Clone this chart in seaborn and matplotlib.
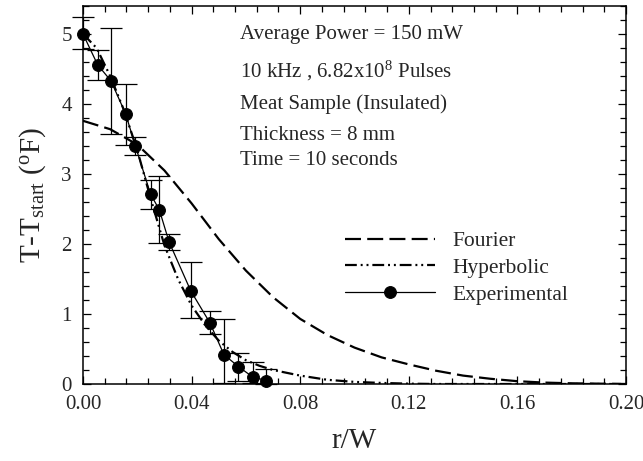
import matplotlib
matplotlib.use("Agg")
import matplotlib.pyplot as plt
import seaborn as sns
import pandas as pd

# ---- data ----
exp_x = [0.0, 0.0054, 0.0103, 0.0157, 0.0193, 0.0249, 0.0281, 0.0317, 0.0397, 0.0468, 0.0519, 0.0572, 0.0625, 0.0674]
exp_y = [5.00, 4.56, 4.33, 3.86, 3.40, 2.71, 2.49, 2.03, 1.33, 0.87, 0.42, 0.25, 0.10, 0.05]
err_hi = [0.24, 0.21, 0.75, 0.43, 0.13, 0.20, 0.48, 0.12, 0.41, 0.18, 0.51, 0.20, 0.21, 0.17]
err_lo = [0.22, 0.21, 0.76, 0.44, 0.13, 0.21, 0.47, 0.12, 0.39, 0.16, 0.40, 0.20, 0.08, 0.05]

four_x = [0.0, 0.01, 0.02, 0.03, 0.04, 0.05, 0.06, 0.07, 0.08, 0.09, 0.10, 0.11, 0.12, 0.13, 0.14, 0.15, 0.16, 0.17, 0.18, 0.20]
four_y = [3.76, 3.64, 3.42, 3.05, 2.58, 2.07, 1.62, 1.24, 0.93, 0.70, 0.52, 0.38, 0.28, 0.19, 0.12, 0.075, 0.04, 0.02, 0.01, 0.0]

hyp_x = [0.0, 0.005, 0.01, 0.015, 0.02, 0.025, 0.03, 0.035, 0.04, 0.045, 0.05, 0.055, 0.06, 0.065, 0.07, 0.08, 0.09, 0.10, 0.11, 0.12, 0.13, 0.15, 0.20]
hyp_y = [5.0, 4.80, 4.40, 3.92, 3.34, 2.64, 1.98, 1.50, 1.12, 0.84, 0.62, 0.46, 0.34, 0.26, 0.20, 0.12, 0.06, 0.03, 0.015, 0.005, 0.0, 0.0, 0.0]

x_ticks = [0.00, 0.04, 0.08, 0.12, 0.16, 0.20]
x_ticklabels = ["0.00", "0.04", "0.08", "0.12", "0.16", "0.20"]
y_ticks = [0, 1, 2, 3, 4, 5]

notes = ["Average Power = 150 mW",
         "10 kHz , 6.82x10$^{8}$ Pulses",
         "Meat Sample (Insulated)",
         "Thickness = 8 mm",
         "Time = 10 seconds"]

sns.set_style("ticks")
plt.rcParams["font.family"] = ["Liberation Serif", "DejaVu Serif"]
plt.rcParams["mathtext.fontset"] = "custom"
plt.rcParams["mathtext.rm"] = "Liberation Serif"
plt.rcParams["mathtext.it"] = "Liberation Serif:italic"
plt.rcParams["lines.scale_dashes"] = False

W, H = 643, 461
fig = plt.figure(figsize=(W / 100, H / 100), dpi=100)
ax = fig.add_axes([83 / W, 1 - 384 / H, (626 - 83) / W, (384 - 6) / H])

df_f = pd.DataFrame({"x": four_x, "y": four_y})
df_h = pd.DataFrame({"x": hyp_x, "y": hyp_y})
df_e = pd.DataFrame({"x": exp_x, "y": exp_y})

sns.lineplot(data=df_f, x="x", y="y", ax=ax, color="black", lw=1.6,
             linestyle=(0, (11.5, 4.5)), label="Fourier")
sns.lineplot(data=df_h, x="x", y="y", ax=ax, color="black", lw=1.6,
             linestyle=(0, (8.5, 2.8, 1.4, 2.8, 1.4, 2.8)), label="Hyperbolic")
ax.errorbar(exp_x, exp_y, yerr=[err_lo, err_hi], fmt="none", ecolor="black",
            elinewidth=0.9, capsize=8, capthick=0.9, clip_on=False, zorder=3)
sns.lineplot(data=df_e, x="x", y="y", ax=ax, color="black", lw=0.9,
             marker="o", markersize=8.5, markeredgecolor="black",
             label="Experimental", clip_on=False, zorder=4)

ax.set_xlim(0, 0.2)
ax.set_ylim(0, 5.4)
ax.set_xticks(x_ticks)
ax.set_xticklabels(x_ticklabels)
ax.set_yticks(y_ticks)
ax.xaxis.set_minor_locator(matplotlib.ticker.MultipleLocator(0.008))
ax.yaxis.set_minor_locator(matplotlib.ticker.MultipleLocator(0.2))
ax.tick_params(which="both", direction="in", top=True, right=True, width=0.9,
               labelsize=15, color="black")
ax.tick_params(which="major", length=6, pad=8)
ax.tick_params(which="minor", length=4)
for s in ax.spines.values():
    s.set_linewidth(1.1)
    s.set_color("black")

ax.set_xlabel("r/W", fontsize=21, labelpad=10)
ax.set_ylabel("T-T$_{\\mathrm{start}}$ ($^{\\mathrm{o}}$F)", fontsize=21, labelpad=10)

ys = [34, 71, 104, 136, 160]
for t, yy in zip(notes, ys):
    fig.text(240 / W, 1 - yy / H, t, fontsize=15, va="center", ha="left")

leg = ax.legend(loc="center left", bbox_to_anchor=(345 / W, 1 - 268 / H),
                bbox_transform=fig.transFigure, frameon=False, fontsize=15.5,
                handlelength=4.2, handletextpad=0.8, labelspacing=0.32,
                borderpad=0, borderaxespad=0)

fig.savefig("out.png", dpi=100)
